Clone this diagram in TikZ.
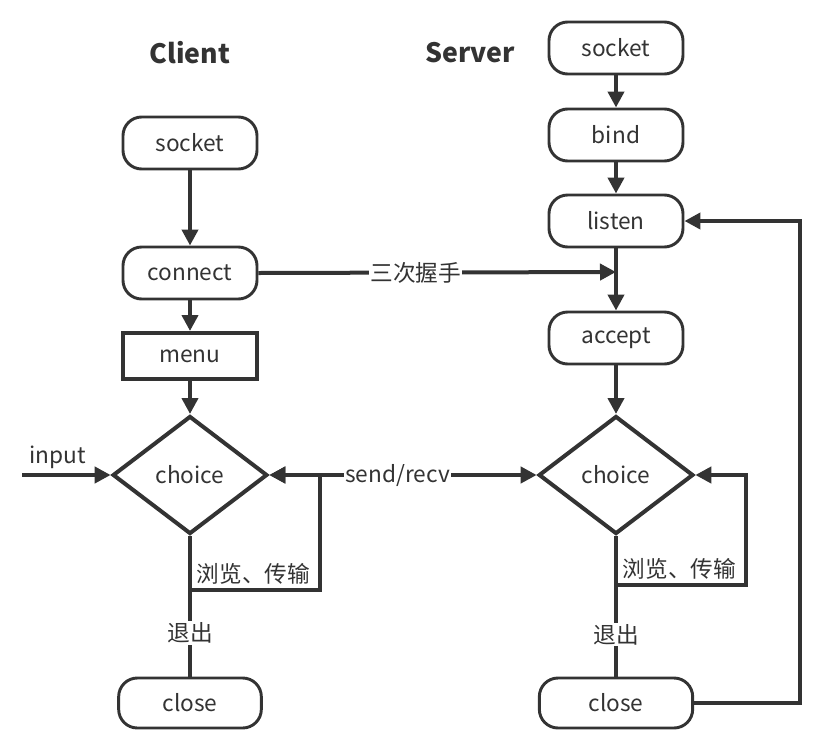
\documentclass[tikz,border=0pt]{standalone}
\usepackage{fontspec}
\setmainfont{Noto Sans CJK SC}
\usepackage{tikz}
\usetikzlibrary{arrows.meta,positioning,shapes.geometric}
\definecolor{linegray}{HTML}{333333}

\begin{document}
\begin{tikzpicture}[
    x=0.75pt,
    y=-0.75pt,
    linegray,
    font=\fontsize{17pt}{20pt}\selectfont,
    >={Triangle[length=12pt,width=12pt]},
    every path/.style={line width=3pt},
    func/.style={
		rectangle,
		rounded corners=14pt,
		draw=linegray,
		line width=2.2pt,
		text centered,
		minimum height=39pt,
		minimum width=100.5pt,
		fill=white
	},
	menubox/.style={
		rectangle,
		draw=linegray,
		line width=3pt,
		text centered,
		minimum height=34.5pt,
		minimum width=100.5pt,
		fill=white
	},
	choice/.style={
		diamond,
		draw=linegray,
		line width=3pt,
		inner sep=0pt,
		minimum height=88.5pt,
		minimum width=116pt,
		fill=white
	},
	title/.style={
		font=\fontsize{20pt}{24pt}\selectfont\bfseries
	},
	label/.style={
		fill=white,
		inner sep=1pt
	}
  ]

\useasboundingbox (0,0) rectangle (822,747);

% // Client
\node [title] (ctitle) at (190,53) {Client};
\node [func] (csocket) at (190,143) {socket};
\node [func, below of=csocket, node distance=97.5pt] (cconnect) {connect};
\node [menubox, below of=cconnect, node distance=62.25pt] (cmenu) {menu};
\node [choice, below of=cmenu, node distance=89.25pt] (cchoice) {choice};
\node [func, below of=cchoice, node distance=171pt, minimum width=107pt, minimum height=37.5pt] (cclose) {close};

% // Server
\node [title] (stitle) at (470,53) {Server};
\node [func] (ssocket) at (616,48) {socket};
\node [func, below of=ssocket, node distance=65.25pt] (sbind) {bind};
\node [func, below of=sbind, node distance=64.5pt] (slisten) {listen};
\node [func, below of=slisten, node distance=87.75pt] (saccept) {accept};
\node [choice, below of=saccept, node distance=102.75pt] (schoice) {choice};
\node [func, below of=schoice, node distance=171pt, minimum width=115pt, minimum height=37.5pt] (sclose) {close};

% helper points
\coordinate (cin) at (22,475);
\coordinate (hs) at (616,272);
\coordinate (cloop) at (190,590);
\coordinate (cloopr) at (320,590);
\coordinate (sloop) at (616,585);
\coordinate (sloopr) at (746,585);
\coordinate (sback) at (800,703);

 \draw [->]  (csocket) -- (cconnect);
 \draw [->]  (cconnect) -- (cmenu);
 \draw [->]  (cmenu) -- (cchoice);
 \draw [->]  (cin) -- node [above, pos=0.4] {input} (cchoice.west);
 \draw  (cchoice.south) -- node [label, pos=0.69] {退出} (cclose.north);
 \draw [->]  (cloop) -- (cloopr) |- (cchoice.east);
 \node [anchor=south west, inner sep=2pt] (cbrowse) at (192,589) {浏览、传输};

 \draw [->]  (ssocket) -- (sbind);
 \draw [->]  (sbind) -- (slisten);
 \draw [->]  (slisten) -- (saccept);
 \draw [->]  (saccept) -- (schoice);
 \draw  (schoice.south) -- node [label, pos=0.7] {退出} (sclose.north);
 \draw [->]  (sloop) -- (sloopr) |- (schoice.east);
 \node [anchor=south west, inner sep=2pt] (sbrowse) at (618,584) {浏览、传输};
 \draw [->]  (sclose.east) -- (sback) |- (slisten.east);

% // between client and server
 \draw [->]  (cconnect.east) -- node [label, pos=0.44] {三次握手} (hs);
 \draw [<->]  (cchoice.east) -- node [label, pos=0.48] {send/recv} (schoice.west);

\end{tikzpicture}
\end{document}
